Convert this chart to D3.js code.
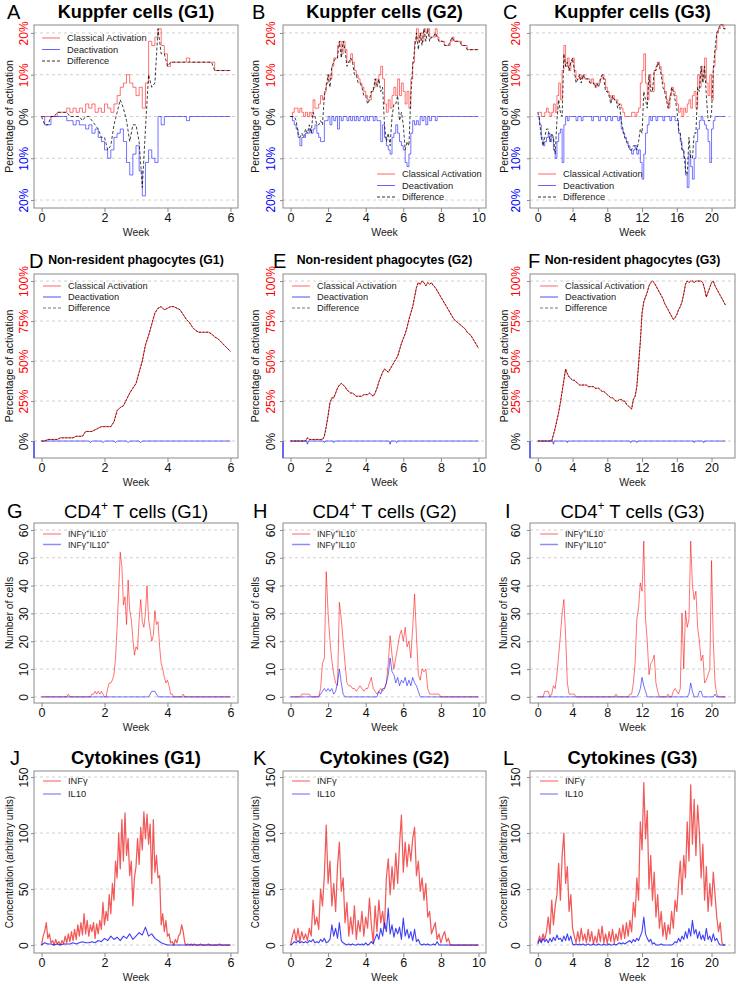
<!DOCTYPE html>
<html><head><meta charset="utf-8">
<script src="https://cdn.jsdelivr.net/npm/d3@7"></script>
<style>
body{margin:0;background:#fff}
svg{display:block}
text{font-family:"Liberation Sans",Arial,sans-serif}
</style>
</head><body>
<svg id="chart" width="738" height="984"></svg>
<script>
// ---------------- DATA ----------------
// Kupffer cells, % activation (step sizes in weeks)
const kupStepG1 = 0.1, kupStepG2 = 0.1, kupStepG3 = 0.2;
const kupActG1 = [0,0,0,0,0, 1,1,1,2,1, 2,1,2,1,3, 2,3,1,2,1, 3,2,1,3,5, 7,8,10,8,7, 5,7,2,8,18, 17,19,21,17,15, 12,13,13,13,13, 13,14,13,13,13, 13,13,13,13,13, 11,11,11,11,11, 11];
const kupDeactG1 = [0,-2,-2,0,0, 0,0,0,-1,-1, -2,-1,-2,-2,-3, -2,-4,-3,-5,-6, -8,-10,-8,-5,-4, -3,-6,-11,-14,-9, -7,-13,-19,-11,-8, -10,-11,0,-2,0, 0,0,0,0,0, 0,-1,0,0,0, 0,0,0,0,0, 0,0,0,0,0, 0];
const kupActG2 = [0,1,2,2,1, 2,1,0,1,0, 1,0,4,2,2, 3,5,4,6,8, 10,9,12,14,14, 17,18,15,18,16, 13,13,15,13,11, 10,9,8,7,6, 5,4,4,6,7, 9,8,10,12,9, 3,1,4,2,5, 7,5,9,5,8, 6,3,6,2,9, 13,18,21,18,20, 18,21,20,21,19, 19,19,21,19,18, 18,18,17,17,17, 18,19,18,18,18, 18,17,17,17,16, 16,16,16,16,16, 16];
const kupDeactG2 = [0,-1,-2,-3,-5, -7,-5,-5,-4,-4, -3,-4,-3,-2,-4, -5,-6,-6,-1,-1, 0,-2,0,-1,0, -3,0,-1,0,0, -1,0,-1,0,-1, 0,-1,0,0,-1, 0,-1,0,0,-1, 0,-1,-1,-6,-2, -5,-7,-8,-9,-5, -4,-2,-4,-6,-7, -8,-11,-12,-9,-4, -1,-2,-1,-2,0, -1,0,-2,0,-1, 0,0,-1,0,0, 0,0,0,0,0, 0,0,0,0,0, 0,0,0,0,0, 0,0,0,0,0, 0];
const kupActG3 = [1,1,0,0,1, 2,1,0,1,3, 1,5,8,4,11, 17,12,14,11,13, 14,11,9,9,10, 9,10,9,9,9, 8,9,8,7,8, 8,9,10,9,7, 6,5,4,5,4, 4,3,3,2,1, 0,0,0,0,1, 1,0,1,2,8, 11,15,8,4,10, 7,6,11,12,13, 12,10,8,6,4, 2,5,7,6,5, 3,1,2,0,2, 1,3,4,2,5, 6,2,10,7,12, 9,14,8,5,10, 4,12,16,20,21, 22,22,21,21];
const kupDeactG3 = [0,-2,-5,-7,-6, -5,-4,-6,-5,-8, -10,-6,-4,-3,-11, -2,0,-1,0,0, 0,0,-1,0,0, -1,0,0,0,0, 0,-1,0,0,0, -1,0,0,0,-1, 0,0,-1,0,0, 0,-1,0,-3,-4, -5,-6,-7,-8,-9, -8,-7,-9,-8,-11, -15,-9,-4,-2,0, -1,0,0,-1,0, 0,0,-1,0,0, 0,-1,0,0,-1, -1,-4,-6,-8,-10, -14,-17,-9,-12,-15, -10,-6,-3,-1,0, -1,-2,-3,-6,-11, -3,-1,0,0,0, 0,0,0,0];

// Non-resident phagocytes, % activation
const npStepG1 = 0.1, npStepG2 = 0.1, npStepG3 = 0.2;
const npActG1 = [0,0,1,1,1, 1,2,2,2,2, 2,3,3,3,6, 6,6,7,8,9, 9,9,9,12,19, 21,22,26,30,33, 36,43,50,60,66, 73,80,83,84,82, 83,84,84,83,82, 79,76,74,71,69, 68,68,68,68,67, 65,64,62,60,58, 56];
const npActG2 = [0,0,0,0,0, 0,0,0,0,2, 1,1,1,1,1, 1,1,1,3,9, 16,24,27,27,30, 33,35,36,35,34, 32,31,30,30,29, 28,28,28,28,29, 29,29,30,29,28, 30,33,37,40,43, 45,44,43,45,47, 49,51,53,57,61, 64,67,71,76,80, 84,90,96,99,98, 100,99,97,99,98, 99,97,96,94,92, 90,88,86,84,82, 80,78,76,75,74, 73,72,71,70,68, 67,66,64,62,60, 58];
const npActG3 = [0,0,0,0,0, 0,0,0,0,4, 8,13,18,24,31, 38,45,42,40,39, 38,38,37,36,35, 35,35,35,35,34, 34,34,34,33,33, 33,32,31,31,30, 29,28,27,27,26, 25,25,26,26,25, 25,23,22,21,20, 26,28,34,48,62, 80,87,90,93,97, 99,100,99,97,95, 93,91,89,86,84, 82,80,78,76,77, 79,82,84,87,92, 98,100,99,100,100, 99,100,100,100,100, 99,95,90,93,96, 99,100,97,95,93, 91,89,87,85];
// deactivation: [week, %] readings (tiny blips only)
const npDeactG1 = [[0,0],[1.5,0],[1.55,-1],[1.6,0],[1.9,0],[1.95,-1],[2.0,0],[2.3,0],[2.35,-1],[2.4,0],[2.7,0],[2.75,-1],[2.8,0],[3.1,0],[3.15,-1],[3.2,0],[6,0]];
const npDeactG2 = [[0,0],[0.85,0],[0.9,-2],[0.95,0],[1.75,0],[1.8,-1],[1.85,0],[2.25,0],[2.3,-1],[2.35,0],[5.25,0],[5.3,-2],[5.35,0],[5.6,0],[5.65,-1],[5.7,0],[10,0]];
const npDeactG3 = [[0,0],[1.7,0],[1.8,-2],[1.9,0],[3.3,0],[3.4,-1],[3.5,0],[10.6,0],[10.7,-1],[10.8,0],[11.3,0],[11.4,-1],[11.5,0],[17.9,0],[18,-1],[18.1,0],[19.0,0],[19.1,-1],[19.2,0],[21.6,0]];

// CD4+ T cells, number of cells
const cd4StepRedG1 = 0.05, cd4StepBlueG1 = 0.1, cd4StepG2 = 0.1, cd4StepG3 = 0.2;
const cd4NegG1 = [0,0,0,0,0,0,0,0,0,0, 0,0,0,0,0,0,0,1,0,0, 0,0,0,0,0,0,0,0,0,0, 0,0,1,1,2,1,2,1,2,1, 0,0,3,5,5,6,8,14,25,38, 52,47,33,36,26,42,31,28,21,15, 18,17,28,35,27,25,30,40,28,24, 20,22,31,26,27,18,12,10,7,5, 6,4,1,1,0,0,0,0,0,0, 1,0,0,0,0,0,0,0,0,0, 0,0,0,0,0,0,0,0,0,0, 0,0,0,0,0,0,0,0,0,0, 0];
const cd4PosG1 = [0,0,0,0,0,0,0,0,0,0, 0,0,0,0,0,0,0,0,0,0, 0,0,0,0,0,0,0,0,0,0, 0,0,0,0,0,2,2,0,0,0, 0,0,0,0,0,0,0,0,0,0, 0,0,0,0,0,0,0,0,0,0, 0];
const cd4NegG2 = [0,0,0,0,0,0,1,1,1,1, 1,0,0,0,0,0,3,12,14,45, 30,20,13,8,5,4,34,28,20,12, 5,4,4,3,3,2,3,4,3,2, 3,3,5,7,3,2,1,2,3,2, 3,5,12,22,15,10,14,18,22,24, 20,25,18,20,14,25,37,22,8,6, 10,9,10,3,1,1,1,1,1,1, 0,0,0,0,0,0,0,0,0,0, 0,0,0,0,0,0,0,0,0,0, 0];
const cd4PosG2 = [0,0,0,0,0,0,0,0,0,0, 0,0,0,0,0,0,1,2,3,2, 3,2,3,1,2,5,10,5,1,0, 0,0,0,0,0,0,0,0,0,0, 0,0,0,0,0,0,0,2,1,3, 3,5,8,14,9,8,5,7,4,6, 5,7,4,6,4,7,5,4,2,0, 0,0,0,0,0,0,0,0,0,0, 0,0,0,0,0,0,0,0,0,0, 0,0,0,0,0,0,0,0,0,0, 0];
const cd4NegG3 = [0,0,0,0,2, 2,2,0,1,4, 3,8,15,22,30, 35,22,5,1,1, 1,1,0,0,0, 0,0,0,0,0, 0,0,0,0,0, 0,0,0,0,0, 0,0,0,0,0, 1,0,0,0,0, 0,0,0,1,1, 5,12,28,32,41, 38,56,28,20,8, 12,13,15,5,2, 0,0,0,0,0, 1,0,0,2,3, 2,1,3,30,10, 31,25,28,56,40, 35,38,25,20,13, 15,5,6,8,10, 49,20,5,1,0, 0,0,0,0];
const cd4PosG3 = [0,0,0,0,0, 0,0,0,0,0, 0,0,0,0,0, 0,0,0,0,0, 0,0,0,0,0, 0,0,0,0,0, 0,0,0,0,0, 0,0,0,0,0, 0,0,0,0,0, 0,0,0,0,0, 0,0,0,0,0, 0,0,0,1,3, 7,4,2,0,0, 0,0,0,0,0, 0,0,0,0,0, 0,0,0,0,0, 0,0,0,0,0, 0,0,1,5,2, 0,0,0,2,2, 0,0,0,0,0, 0,0,1,0,0, 0,0,0,0];

// Cytokines, concentration (arbitrary units)
const cytoStepRedG1 = 0.05, cytoStepBlueG1 = 0.1, cytoStepG2 = 0.1, cytoStepG3 = 0.2;
const cytoInfgG1 = [0,8,12,20,6,10,2,4,0,5, 1,3,0,4,1,8,2,10,3,12, 4,14,5,18,8,20,9,28,10,22, 8,18,12,20,6,19,10,22,14,38, 18,30,22,45,28,55,40,75,60,100, 68,112,75,118,80,95,62,75,35,60, 70,95,72,105,85,119,95,117,90,108, 55,112,65,80,60,62,18,28,12,22, 8,10,2,3,0,5,2,8,10,18, 12,2,0,1,0,1,0,1,0,0, 0,1,0,0,0,0,1,0,0,0, 0,0,0,1,0,0,0,0,0,0, 0];
const cytoIl10G1 = [0,2,1,1,0,1,0,1,1,1, 2,1,2,3,2,2,3,2,4,3, 6,4,8,5,7,4,8,6,10,5, 8,11,9,16,8,10,6,4,2,1, 0,0,0,0,0,0,0,0,0,0, 0,0,0,0,0,0,0,0,0,0, 0];
const cytoInfgG2 = [0,8,14,4,15,3,12,5,10,4, 15,8,40,18,25,14,50,35,62,107, 55,75,35,55,30,70,92,48,60,20, 38,8,25,10,35,5,22,12,30,8, 25,15,42,18,2,35,12,40,20,30, 15,60,77,45,70,50,82,55,90,116, 65,92,70,90,75,95,105,62,75,48, 60,40,55,25,30,10,15,20,5,10, 2,8,12,3,6,0,0,0,0,0, 0,0,0,0,0,0,0,0,0,0, 0];
const cytoIl10G2 = [0,1,3,2,4,2,3,2,3,2, 4,3,5,2,3,2,5,3,6,2, 3,5,18,8,15,6,20,4,2,1, 0,1,0,1,0,0,1,0,1,0, 2,0,1,3,1,6,10,5,15,8, 20,12,33,10,18,7,15,10,16,5, 24,8,14,6,12,4,14,3,5,1, 0,1,0,1,0,0,1,0,3,0, 0,0,0,0,0,0,0,0,0,0, 0,0,0,0,0,0,0,0,0,0, 0];
const cytoInfgG3 = [2,8,3,10,5, 12,25,10,40,18, 35,45,73,40,80, 100,55,70,30,45, 15,8,2,12,3, 15,4,10,2,14, 3,12,1,8,2, 14,3,17,2,10, 1,12,3,14,2, 10,4,15,5,18, 6,20,8,22,12, 38,25,60,40,110, 85,145,95,120,50, 80,40,65,25,45, 15,30,8,20,5, 18,10,30,15,40, 30,55,75,45,80, 60,110,75,143,90, 130,80,125,100,60, 90,40,70,30,55, 35,65,45,25,12, 20,2,0,0];
const cytoIl10G3 = [1,5,2,6,3, 5,2,6,3,7, 4,9,5,6,3, 8,4,10,4,8, 1,0,1,0,1, 0,1,0,0,1, 0,0,1,0,0, 1,0,0,1,0, 0,1,0,0,1, 0,1,2,1,2, 1,2,3,4,2, 5,3,6,4,8, 12,25,10,6,3, 5,1,2,0,0, 0,1,0,0,0, 0,0,0,1,3, 2,6,3,8,5, 12,6,15,8,22, 10,14,6,12,5, 9,4,15,5,8, 3,10,4,6,2, 0,0,0,0];

// Tick labels / categories
const groups = ["G1","G2","G3"];
const weekTicks = [[0,2,4,6],[0,2,4,6,8,10],[0,4,8,12,16,20]];
const pctTicksKup = [-20,-10,0,10,20];
const pctTicksNp = [0,25,50,75,100];
const cellTicks = [0,10,20,30,40,50,60];
const concTicks = [0,50,100,150];
const panelLetters = [["A","B","C"],["D","E","F"],["G","H","I"],["J","K","L"]];

// ---------------- LAYOUT ----------------
const svg = d3.select("#chart");
const cols = [
  {left:34, right:238, xDomain:[-0.24,6.24], yTickX:24, yTitleX:9},
  {left:283, right:486, xDomain:[-0.4,10.4], yTickX:270.5, yTitleX:255},
  {left:530, right:735, xDomain:[-0.9,22.7], yTickX:515.5, yTitleX:503.5}
];
const rows = [
  {top:25, bottom:208, yDomain:[-21.9,21.9], ticks:pctTicksKup, titleY:18, letterY:19, letterDX:[7,252,503]},
  {top:274, bottom:458, yDomain:[-10.6,104.4], ticks:pctTicksNp, titleY:264, letterY:268, letterDX:[29,273,528]},
  {top:523, bottom:703, yDomain:[-2.2,62.5], ticks:cellTicks, titleY:518, letterY:518, letterDX:[7,253,505]},
  {top:771, bottom:953, yDomain:[-7.1,155.4], ticks:concTicks, titleY:764, letterY:765, letterDX:[10,253,503]}
];
const RED = "rgba(255,0,0,0.55)", BLUE = "rgba(0,0,255,0.55)";
const pts = (vals, step) => vals.map((v,i) => [+(i*step).toFixed(3), v]);
const sumSeries = (a, b) => a.map((d,i) => [d[0], d[1] + b[i][1]]);

function drawPanel(ri, ci, cfg){
  const c = cols[ci], r = rows[ri];
  const x = d3.scaleLinear().domain(c.xDomain).range([c.left, c.right]);
  const y = d3.scaleLinear().domain(r.yDomain).range([r.bottom, r.top]);
  const g = svg.append("g");
  g.selectAll("line.grid").data(r.ticks).join("line")
    .attr("x1", c.left).attr("x2", c.right)
    .attr("y1", d => y(d)).attr("y2", d => y(d))
    .attr("stroke", "#cfcfcf").attr("stroke-dasharray", "3,3");
  cfg.series.forEach(s => {
    const line = d3.line().x(d => x(d[0])).y(d => y(d[1]))
      .curve(s.step ? d3.curveStepAfter : d3.curveLinear);
    g.append("path").attr("d", line(s.data)).attr("fill","none")
      .attr("stroke", s.color).attr("stroke-width", s.width || 1)
      .attr("stroke-linejoin","round")
      .attr("stroke-dasharray", s.dash || null);
  });
  g.append("rect").attr("x", c.left).attr("y", r.top)
    .attr("width", c.right - c.left).attr("height", r.bottom - r.top)
    .attr("fill","none").attr("stroke","#8a8a8a");
  if (cfg.negAxis) {
    g.append("line").attr("x1", c.left).attr("x2", c.left)
      .attr("y1", y(0)).attr("y2", r.bottom).attr("stroke", "#3030ff").attr("stroke-width", 1.2);
  }
  const xa = g.append("g").attr("transform", `translate(0,${r.bottom})`)
    .call(d3.axisBottom(x).tickValues(weekTicks[ci]).tickSize(4).tickPadding(1).tickFormat(d3.format("d")));
  xa.select(".domain").remove();
  xa.selectAll("line").attr("stroke","#8a8a8a");
  xa.selectAll("text").attr("font-size", 12.5).attr("fill","#111").style("font-family","Liberation Sans, Arial, sans-serif");
  g.append("text").attr("x", (c.left + c.right)/2).attr("y", r.bottom + 24)
    .attr("text-anchor","middle").attr("dominant-baseline","central")
    .attr("font-size", 10.5).attr("fill","#222").text("Week");
  const ya = g.append("g").attr("transform", `translate(${c.left},0)`)
    .call(d3.axisLeft(y).tickValues(r.ticks).tickSize(3).tickFormat(cfg.yFormat));
  ya.select(".domain").remove();
  ya.selectAll("line").attr("stroke","#8a8a8a");
  const lx = c.yTickX - c.left;
  ya.selectAll("text").attr("x", lx).attr("dy", null)
    .attr("text-anchor","middle").attr("dominant-baseline","central")
    .attr("transform", `rotate(-90,${lx},0)`)
    .attr("font-size", 12).attr("fill", d => cfg.yColor ? cfg.yColor(d) : "#111")
    .style("font-family","Liberation Sans, Arial, sans-serif");
  g.append("text").attr("transform", `translate(${c.yTitleX},${(r.top + r.bottom)/2}) rotate(-90)`)
    .attr("text-anchor","middle").attr("dominant-baseline","central")
    .attr("font-size", cfg.yTitleSize).attr("fill","#111").text(cfg.yTitle);
  const t = g.append("text").attr("x", (c.left + c.right)/2).attr("y", r.titleY)
    .attr("text-anchor","middle").attr("font-size", cfg.titleSize)
    .attr("font-weight", cfg.titleBold ? "bold" : "normal").attr("fill","#000");
  cfg.title(t);
  g.append("text").attr("x", r.letterDX[ci]).attr("y", r.letterY)
    .attr("font-size", 20).attr("fill","#000").text(panelLetters[ri][ci]);
  const L = cfg.legend;
  L.items.forEach((it, i) => {
    const yy = L.y + i * L.gap;
    g.append("line").attr("x1", L.x).attr("x2", L.x + 18).attr("y1", yy).attr("y2", yy)
      .attr("stroke", it.color).attr("stroke-width", it.width || 1)
      .attr("stroke-dasharray", it.dash || null);
    const tx = g.append("text").attr("x", L.x + 25).attr("y", yy)
      .attr("dominant-baseline","central").attr("font-size", L.size).attr("fill","#222");
    it.label(tx);
  });
}

const pctFmtKup = d => Math.abs(d) + "%";
const pctColKup = d => d > 0 ? "#ff0000" : (d < 0 ? "#0000ff" : "#111");
const pctColNp = d => d > 0 ? "#ff0000" : "#111";

// Row 1: Kupffer cells
const kupData = [
  [kupActG1, kupDeactG1, kupStepG1],
  [kupActG2, kupDeactG2, kupStepG2],
  [kupActG3, kupDeactG3, kupStepG3]
];
const kupLegendPos = [{x:42, y:38}, {x:377, y:174}, {x:538, y:174}];
kupData.forEach(([act, deact, step], ci) => {
  const a = pts(act, step), dd = pts(deact, step);
  drawPanel(0, ci, {
    series: [
      {data:a, color:RED, step:true},
      {data:dd, color:BLUE, step:true},
      {data:sumSeries(a, dd), color:"rgba(0,0,0,0.75)", dash:"3,2"}
    ],
    yFormat: pctFmtKup, yColor: pctColKup,
    yTitle: "Percentage of activation", yTitleSize: 10.5,
    titleSize: 18.2, titleBold: true,
    title: t => t.text(`Kuppfer cells (${groups[ci]})`),
    legend: {x: kupLegendPos[ci].x, y: kupLegendPos[ci].y, gap: 11.5, size: 9.3, items: [
      {color:"rgba(255,0,0,0.6)", label: t => t.text("Classical Activation")},
      {color:"rgba(0,0,255,0.6)", label: t => t.text("Deactivation")},
      {color:"#333", dash:"3,2", label: t => t.text("Difference")}
    ]}
  });
});

// Row 2: Non-resident phagocytes
const npData = [[npActG1, npDeactG1, npStepG1],[npActG2, npDeactG2, npStepG2],[npActG3, npDeactG3, npStepG3]];
const npLegendX = [43, 292, 540];
npData.forEach(([act, deact, step], ci) => {
  const a = pts(act, step);
  drawPanel(1, ci, {
    series: [
      {data:a, color:"rgba(255,0,0,0.7)"},
      {data:deact, color:"rgba(0,0,255,0.6)"},
      {data:a, color:"rgba(60,0,0,0.75)", dash:"2,1.5"}
    ],
    negAxis: true,
    yFormat: d => d + "%", yColor: pctColNp,
    yTitle: "Percentage of activation", yTitleSize: 10.5,
    titleSize: 12.3, titleBold: true,
    title: t => t.text(`Non-resident phagocytes (${groups[ci]})`),
    legend: {x: npLegendX[ci], y: 286, gap: 11, size: 9.3, items: [
      {color:"rgba(255,0,0,0.6)", label: t => t.text("Classical Activation")},
      {color:"rgba(0,0,255,0.35)", width:2, label: t => t.text("Deactivation")},
      {color:"#777", dash:"3,2", label: t => t.text("Difference")}
    ]}
  });
});

// Row 3: CD4+ T cells
const cd4Data = [
  [cd4NegG1, cd4StepRedG1, cd4PosG1, cd4StepBlueG1, "+"],
  [cd4NegG2, cd4StepG2, cd4PosG2, cd4StepG2, "-"],
  [cd4NegG3, cd4StepG3, cd4PosG3, cd4StepG3, "+"]
];
const legX = [43, 292, 540];
function infLabel(t, sign){
  t.append("tspan").text("INFγ");
  t.append("tspan").attr("dy", -3).attr("font-size", 6).text("+");
  t.append("tspan").attr("dy", 3).text("IL10");
  t.append("tspan").attr("dy", -3).attr("font-size", 6).text(sign === "-" ? "-" : "+");
}
cd4Data.forEach(([neg, sNeg, pos, sPos, sign], ci) => {
  drawPanel(2, ci, {
    series: [
      {data:pts(neg, sNeg), color:RED},
      {data:pts(pos, sPos), color:BLUE}
    ],
    yFormat: d3.format("d"),
    yTitle: "Number of cells", yTitleSize: 10.4,
    titleSize: 18.5, titleBold: false,
    title: t => {
      t.append("tspan").text("CD4");
      t.append("tspan").attr("dy", -8).attr("font-size", 12).text("+");
      t.append("tspan").attr("dy", 8).text(` T cells (${groups[ci]})`);
    },
    legend: {x: legX[ci], y: 534, gap: 10.5, size: 8.5, items: [
      {color:"rgba(255,0,0,0.6)", label: t => infLabel(t, "-")},
      {color:"rgba(0,0,255,0.45)", width:1.5, label: t => infLabel(t, sign)}
    ]}
  });
});

// Row 4: Cytokines
const cytoData = [
  [cytoInfgG1, cytoStepRedG1, cytoIl10G1, cytoStepBlueG1],
  [cytoInfgG2, cytoStepG2, cytoIl10G2, cytoStepG2],
  [cytoInfgG3, cytoStepG3, cytoIl10G3, cytoStepG3]
];
cytoData.forEach(([inf, sInf, il, sIl], ci) => {
  drawPanel(3, ci, {
    series: [
      {data:pts(inf, sInf), color:"rgba(235,0,0,0.65)", width:1.25},
      {data:pts(il, sIl), color:"rgba(0,0,240,0.75)", width:1.1}
    ],
    yFormat: d3.format("d"),
    yTitle: "Concentration (arbitrary units)", yTitleSize: 10,
    titleSize: 18.4, titleBold: true,
    title: t => t.text(`Cytokines (${groups[ci]})`),
    legend: {x: legX[ci], y: 781, gap: 13, size: 9.3, items: [
      {color:"rgba(255,0,0,0.45)", width:1.5, label: t => t.text("INFγ")},
      {color:"rgba(0,0,255,0.6)", label: t => t.text("IL10")}
    ]}
  });
});
</script>
</body></html>
